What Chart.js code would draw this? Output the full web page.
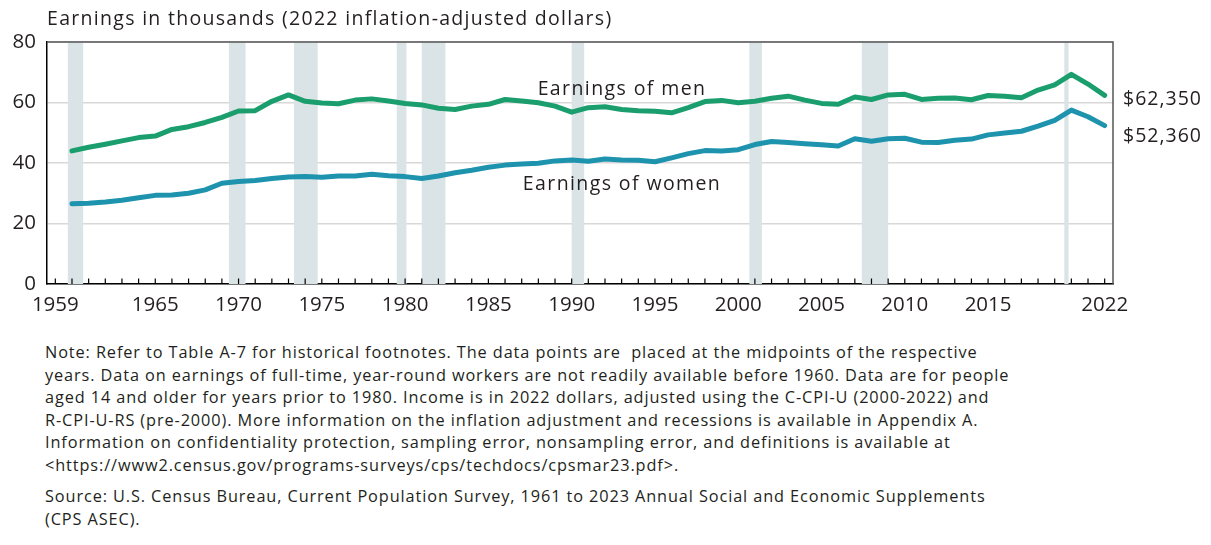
<!DOCTYPE html>
<html>
<head>
<meta charset="utf-8">
<script src="https://cdn.jsdelivr.net/npm/chart.js@4.4.0/dist/chart.umd.js"></script>
<style>
  body { margin: 0; background: #fff; width: 1211px; height: 545px; overflow: hidden; position: relative; }
  .txt { position: absolute; font-family: "Open Sans", sans-serif; color: #231f20; white-space: pre; line-height: 1; }
  #chartBox { position: absolute; left: 0; top: 0; width: 1211px; height: 330px; }
  .notes { position: absolute; left: 45px; top: 341px; font-family: "Open Sans", sans-serif; font-size: 16.3px; letter-spacing: 0.9px; line-height: 22.6px; color: #231f20; white-space: pre; }
</style>
</head>
<body>
<div id="chartBox"><canvas id="earnChart" width="1211" height="330"></canvas></div>

<div class="txt" style="left:47px; top:18px; transform:translateY(-50%); font-size:19.5px; letter-spacing:1.3px;">Earnings in thousands (2022 inflation-adjusted dollars)</div>
<div class="txt" style="left:622px; top:88px; transform:translate(-50%,-50%); font-size:19.5px; letter-spacing:1.4px;">Earnings of men</div>
<div class="txt" style="left:622px; top:183px; transform:translate(-50%,-50%); font-size:19.5px; letter-spacing:1.4px;">Earnings of women</div>
<div class="txt" style="left:1123px; top:98px; transform:translateY(-50%); font-size:19.5px; letter-spacing:1px;">$62,350</div>
<div class="txt" style="left:1123px; top:135px; transform:translateY(-50%); font-size:19.5px; letter-spacing:1px;">$52,360</div>

<div class="notes">Note: Refer to Table A-7 for historical footnotes. The data points are  placed at the midpoints of the respective
years. Data on earnings of full-time, year-round workers are not readily available before 1960. Data are for people
aged 14 and older for years prior to 1980. Income is in 2022 dollars, adjusted using the C-CPI-U (2000-2022) and
R-CPI-U-RS (pre-2000). More information on the inflation adjustment and recessions is available in Appendix A.
Information on confidentiality protection, sampling error, nonsampling error, and definitions is available at
&lt;https://www2.census.gov/programs-surveys/cps/techdocs/cpsmar23.pdf&gt;.</div>
<div class="notes" style="top:485px;">Source: U.S. Census Bureau, Current Population Survey, 1961 to 2023 Annual Social and Economic Supplements
(CPS ASEC).</div>

<script>
// years of data (midpoints of each year)
const years = [
    1960, 1961, 1962, 1963, 1964, 1965, 1966, 1967, 1968, 1969,
    1970, 1971, 1972, 1973, 1974, 1975, 1976, 1977, 1978, 1979,
    1980, 1981, 1982, 1983, 1984, 1985, 1986, 1987, 1988, 1989,
    1990, 1991, 1992, 1993, 1994, 1995, 1996, 1997, 1998, 1999,
    2000, 2001, 2002, 2003, 2004, 2005, 2006, 2007, 2008, 2009,
    2010, 2011, 2012, 2013, 2014, 2015, 2016, 2017, 2018, 2019,
    2020, 2021, 2022
];

// median earnings, thousands of 2022 dollars
const menEarnings = [
    44.0, 45.2, 46.2, 47.3, 48.4, 48.9, 51.1, 52.0, 53.4, 55.1,
    57.2, 57.3, 60.4, 62.5, 60.4, 59.8, 59.6, 60.8, 61.2, 60.5,
    59.7, 59.2, 58.1, 57.7, 58.8, 59.4, 61.0, 60.5, 59.9, 58.8,
    56.8, 58.3, 58.6, 57.7, 57.3, 57.1, 56.6, 58.3, 60.3, 60.7,
    59.9, 60.4, 61.4, 62.1, 60.8, 59.7, 59.4, 61.8, 61.0, 62.5,
    62.7, 61.0, 61.4, 61.5, 60.9, 62.3, 62.1, 61.6, 64.1, 65.8,
    69.3, 66.1, 62.35
];

const womenEarnings = [
    26.5, 26.7, 27.1, 27.7, 28.5, 29.3, 29.4, 30.0, 31.1, 33.3,
    33.9, 34.2, 34.9, 35.4, 35.5, 35.3, 35.7, 35.7, 36.3, 35.8,
    35.5, 34.9, 35.7, 36.8, 37.6, 38.6, 39.3, 39.7, 39.9, 40.7,
    41.0, 40.6, 41.3, 41.0, 40.9, 40.4, 41.7, 43.1, 44.1, 44.0,
    44.4, 46.1, 47.1, 46.8, 46.4, 46.0, 45.6, 48.0, 47.2, 48.0,
    48.2, 46.9, 46.8, 47.5, 47.9, 49.3, 49.9, 50.5, 52.2, 54.1,
    57.5, 55.3, 52.36
];

// recessions, start/end in the same year-midpoint coordinates
const recessionStart = [1959.75, 1969.42, 1973.33, 1979.5, 1981.0, 1990.0, 2000.67, 2007.42, 2019.58];
const recessionEnd   = [1960.67, 1970.42, 1974.75, 1980.08, 1982.42, 1990.75, 2001.42, 2009.0, 2019.83];

// axis
const xLabelYears = [1959, 1965, 1970, 1975, 1980, 1985, 1990, 1995, 2000, 2005, 2010, 2015, 2022];
const xTickFirst = 1959;
const xTickLast = 2022;
const yTicks = [0, 20, 40, 60, 80];

const FONT = '"Open Sans", sans-serif';
const INK = '#231f20';

const recessionPlugin = {
    id: 'recessions',
    beforeDatasetsDraw(chart) {
        const { ctx, chartArea, scales } = chart;
        ctx.save();
        ctx.fillStyle = '#dae3e5';
        recessionStart.forEach((s, i) => {
            const x0 = scales.x.getPixelForValue(s);
            const x1 = scales.x.getPixelForValue(recessionEnd[i]);
            ctx.fillRect(x0, chartArea.top, x1 - x0, chartArea.bottom - chartArea.top);
        });
        ctx.restore();
    }
};

const framePlugin = {
    id: 'frame',
    afterDraw(chart) {
        const { ctx, chartArea, scales } = chart;
        ctx.save();
        // top + right border
        ctx.strokeStyle = '#555';
        ctx.lineWidth = 1.5;
        ctx.beginPath();
        ctx.moveTo(chartArea.left, chartArea.top);
        ctx.lineTo(chartArea.right, chartArea.top);
        ctx.lineTo(chartArea.right, chartArea.bottom);
        ctx.stroke();
        // inward year ticks
        ctx.strokeStyle = '#000';
        ctx.lineWidth = 1.2;
        ctx.beginPath();
        scales.x.ticks.forEach(t => {
            const x = scales.x.getPixelForValue(t.value);
            ctx.moveTo(x, chartArea.bottom);
            ctx.lineTo(x, chartArea.bottom - 5.5);
        });
        ctx.stroke();
        ctx.restore();
    }
};

const toPoints = arr => years.map((yr, i) => ({ x: yr, y: arr[i] }));

new Chart(document.getElementById('earnChart'), {
    type: 'line',
    data: {
        datasets: [
            {
                label: 'Earnings of men',
                data: toPoints(menEarnings),
                borderColor: '#1a9e6d',
                borderWidth: 5,
                pointRadius: 0,
                tension: 0,
                borderJoinStyle: 'round',
                borderCapStyle: 'round',
            },
            {
                label: 'Earnings of women',
                data: toPoints(womenEarnings),
                borderColor: '#1d93ad',
                borderWidth: 5,
                pointRadius: 0,
                tension: 0,
                borderJoinStyle: 'round',
                borderCapStyle: 'round',
            }
        ]
    },
    options: {
        responsive: false,
        animation: false,
        layout: { padding: { left: 0, top: 42, right: 98, bottom: 0 } },
        plugins: {
            legend: { display: false },
            tooltip: { enabled: false },
        },
        scales: {
            x: {
                type: 'linear',
                min: xTickFirst - 0.5,
                max: xTickLast + 0.5,
                afterBuildTicks: scale => {
                    const t = [];
                    for (let v = xTickFirst; v <= xTickLast; v++) t.push({ value: v });
                    scale.ticks = t;
                },
                afterFit: scale => { scale.height = 46; },
                ticks: {
                    autoSkip: false,
                    maxRotation: 0,
                    padding: 9,
                    color: INK,
                    font: { family: FONT, size: 20.5 },
                    callback: v => xLabelYears.includes(v) ? String(v) : '',
                },
                grid: { drawOnChartArea: false, drawTicks: false },
                border: { display: true, color: '#000', width: 1.5 },
            },
            y: {
                min: 0,
                max: 80,
                afterBuildTicks: scale => { scale.ticks = yTicks.map(v => ({ value: v })); },
                afterFit: scale => { scale.width = 47; },
                ticks: {
                    padding: 11,
                    color: INK,
                    font: { family: FONT, size: 20.5 },
                },
                grid: {
                    drawTicks: false,
                    color: '#d8d8d8',
                    lineWidth: 1.5,
                },
                border: { display: true, color: '#000', width: 1.5 },
            }
        }
    },
    plugins: [recessionPlugin, framePlugin]
});
</script>
</body>
</html>
